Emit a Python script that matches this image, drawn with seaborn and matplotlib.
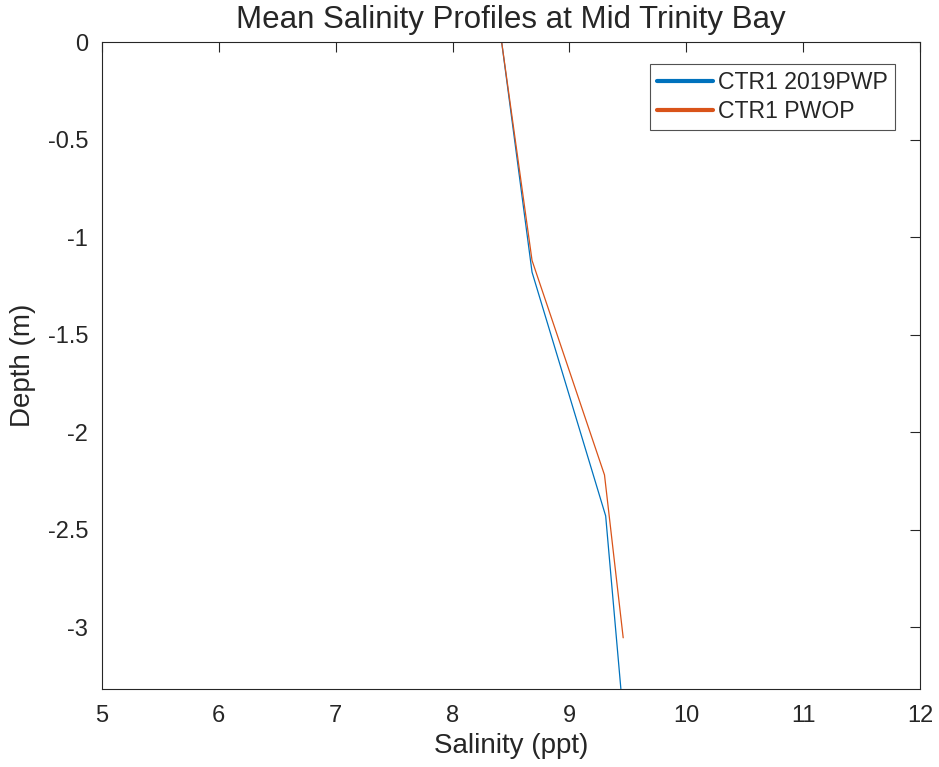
import pandas as pd
import matplotlib.pyplot as plt
import seaborn as sns
from matplotlib.lines import Line2D

# profile data (salinity ppt vs depth m)
pwp_salinity = [8.42, 8.68, 9.31, 9.44]
pwp_depth = [0.0, -1.18, -2.43, -3.316]
pwop_salinity = [8.42, 8.68, 9.30, 9.46]
pwop_depth = [0.0, -1.12, -2.22, -3.055]
series_names = ["CTR1 2019PWP", "CTR1 PWOP"]
colors = ["#0072BD", "#D95319"]

df = pd.concat([
    pd.DataFrame({"Salinity": pwp_salinity, "Depth": pwp_depth, "Run": series_names[0]}),
    pd.DataFrame({"Salinity": pwop_salinity, "Depth": pwop_depth, "Run": series_names[1]}),
])

sns.set_style("white")
plt.rcParams["font.family"] = ["Liberation Sans", "DejaVu Sans"]
plt.rcParams["text.color"] = "#262626"

fig = plt.figure(figsize=(9.39, 7.67), dpi=100)
ax = fig.add_axes([0.1086, 0.1021, 0.8712, 0.8431])

sns.lineplot(data=df, x="Salinity", y="Depth", hue="Run", palette=colors,
             sort=False, linewidth=0.9, legend=False, ax=ax)

ax.set_xlim(5, 12)
ax.set_ylim(min(pwp_depth), 0)
ax.set_xticks(range(5, 13))
ax.set_yticks([-3, -2.5, -2, -1.5, -1, -0.5, 0])
ax.set_yticklabels(["-3", "-2.5", "-2", "-1.5", "-1", "-0.5", "0"])
ax.tick_params(direction="in", length=7, width=0.8, labelsize=17, colors="#262626",
               top=True, right=True)
ax.tick_params(axis="x", pad=12)
ax.tick_params(axis="y", pad=10)
for s in ax.spines.values():
    s.set_color("#262626")
    s.set_linewidth(0.8)

ax.set_title("Mean Salinity Profiles at Mid Trinity Bay", fontsize=22.5, pad=10)
ax.set_xlabel("Salinity (ppt)", fontsize=20, labelpad=4)
ax.set_ylabel("Depth (m)", fontsize=20, labelpad=8)

handles = [Line2D([0], [0], color=c, lw=3) for c in colors]
leg = ax.legend(handles, series_names, loc="upper right", fontsize=16.6,
                frameon=True, fancybox=False, edgecolor="#262626",
                handlelength=2.4, handletextpad=0.25, borderpad=0.3,
                labelspacing=0.28, borderaxespad=0,
                bbox_to_anchor=(0.9696, 0.966))
leg.get_frame().set_linewidth(0.8)

plt.savefig("out.png", dpi=100)
